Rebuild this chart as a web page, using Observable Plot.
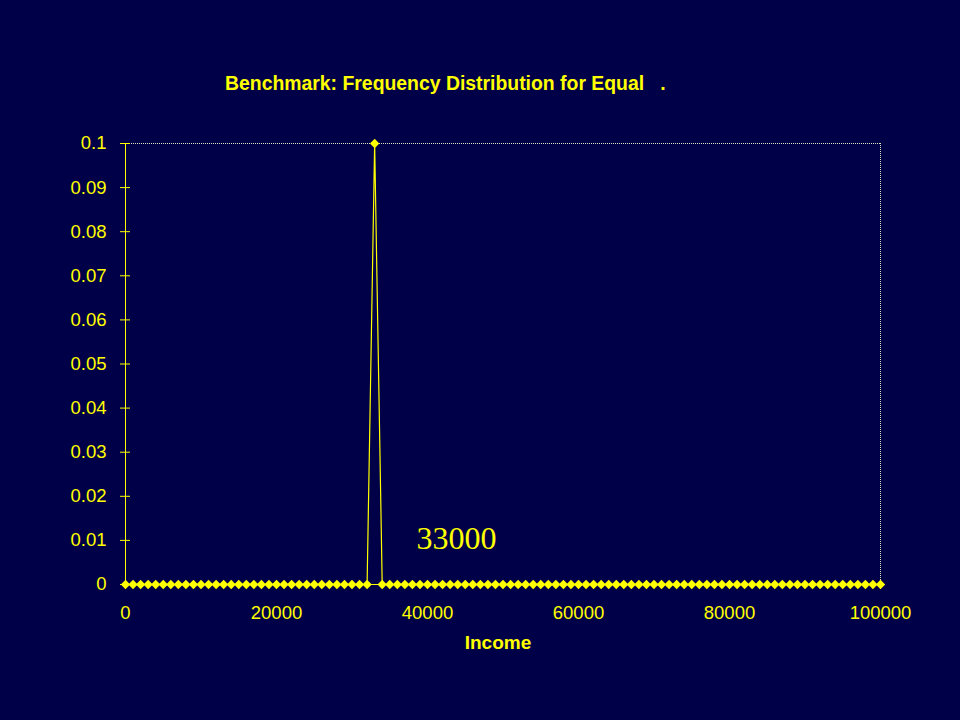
<!DOCTYPE html>
<html>
<head>
<meta charset="utf-8">
<script src="https://cdn.jsdelivr.net/npm/d3@7"></script>
<script src="https://cdn.jsdelivr.net/npm/@observablehq/plot@0.6"></script>
<style>
  html, body { margin: 0; padding: 0; background: #000048; }
  #wrap { position: relative; width: 960px; height: 720px; background: #000048; overflow: hidden; }
  #title { position: absolute; left: 225px; top: 72px; font: bold 19.4px "Liberation Sans", Arial, sans-serif; color: #FFFF00; white-space: pre; }
</style>
</head>
<body>
<div id="wrap"><div id="title"></div></div>
<script>
const titleText = "Benchmark: Frequency Distribution for Equal   .";
const xLabel = "Income";
// Income levels 0..100000 by 1000
const incomes = [
  0,1000,2000,3000,4000,5000,6000,7000,8000,9000,
  10000,11000,12000,13000,14000,15000,16000,17000,18000,19000,
  20000,21000,22000,23000,24000,25000,26000,27000,28000,29000,
  30000,31000,32000,33000,34000,35000,36000,37000,38000,39000,
  40000,41000,42000,43000,44000,45000,46000,47000,48000,49000,
  50000,51000,52000,53000,54000,55000,56000,57000,58000,59000,
  60000,61000,62000,63000,64000,65000,66000,67000,68000,69000,
  70000,71000,72000,73000,74000,75000,76000,77000,78000,79000,
  80000,81000,82000,83000,84000,85000,86000,87000,88000,89000,
  90000,91000,92000,93000,94000,95000,96000,97000,98000,99000,
  100000
];
const frequency = [
  0,0,0,0,0,0,0,0,0,0,
  0,0,0,0,0,0,0,0,0,0,
  0,0,0,0,0,0,0,0,0,0,
  0,0,0,0.1,0,0,0,0,0,0,
  0,0,0,0,0,0,0,0,0,0,
  0,0,0,0,0,0,0,0,0,0,
  0,0,0,0,0,0,0,0,0,0,
  0,0,0,0,0,0,0,0,0,0,
  0,0,0,0,0,0,0,0,0,0,
  0,0,0,0,0,0,0,0,0,0,
  0
];
const xTicks = [0, 20000, 40000, 60000, 80000, 100000];
const yTicks = [0, 0.01, 0.02, 0.03, 0.04, 0.05, 0.06, 0.07, 0.08, 0.09, 0.1];
const annotation = [{income: 38540, freq: 0.0103, text: "33000"}];

document.getElementById("title").textContent = titleText;

const data = incomes.map((x, i) => ({income: x, freq: frequency[i]}));
const yellow = "#FFFF00";
const yFmt = d => String(+d.toFixed(2));

const chart = Plot.plot({
  width: 960,
  height: 720,
  marginLeft: 125,
  marginRight: 80,
  marginTop: 143,
  marginBottom: 136,
  style: {background: "transparent", color: yellow, fontFamily: "'Liberation Sans', Arial, sans-serif", fontSize: "18.5px"},
  x: {domain: [0, 100000], ticks: xTicks, tickFormat: d => String(d)},
  y: {domain: [0, 0.1], ticks: yTicks, tickFormat: yFmt},
  marks: [
    Plot.ruleY([0.1], {stroke: "#e0e0c0", strokeDasharray: "1,1", strokeWidth: 1}),
    Plot.ruleX([100000], {stroke: "#e0e0c0", strokeDasharray: "1,1", strokeWidth: 1}),
    Plot.axisY({ticks: yTicks, tickFormat: yFmt, tickSize: 5, tickPadding: 14, label: null, stroke: yellow, fill: yellow, fontSize: 18.5}),
    Plot.axisY({ticks: yTicks, tickFormat: () => "", tickSize: -5, label: null, stroke: yellow}),
    Plot.axisX({ticks: xTicks, tickFormat: d => String(d), tickSize: 5, tickPadding: 16, label: null, stroke: yellow, fill: yellow, fontSize: 18.5}),
    Plot.ruleX([0], {stroke: yellow, strokeWidth: 1}),
    Plot.ruleY([0], {stroke: yellow, strokeWidth: 1}),
    Plot.line(data, {x: "income", y: "freq", stroke: yellow, strokeWidth: 1.2}),
    Plot.dot(data, {x: "income", y: "freq", symbol: "diamond2", r: 4.2, fill: yellow, stroke: null}),
    Plot.text(annotation, {x: "income", y: "freq", text: "text", textAnchor: "start", fill: yellow, fontSize: 32, fontFamily: "'Liberation Serif', 'Times New Roman', serif"}),
    Plot.text([xLabel], {frameAnchor: "bottom", dy: 64, text: d => d, fill: yellow, fontWeight: "bold", fontSize: 19, dx: -5})
  ]
});
document.getElementById("wrap").appendChild(chart);
chart.style.position = "absolute";
chart.style.left = "0";
chart.style.top = "0";
</script>
</body>
</html>
